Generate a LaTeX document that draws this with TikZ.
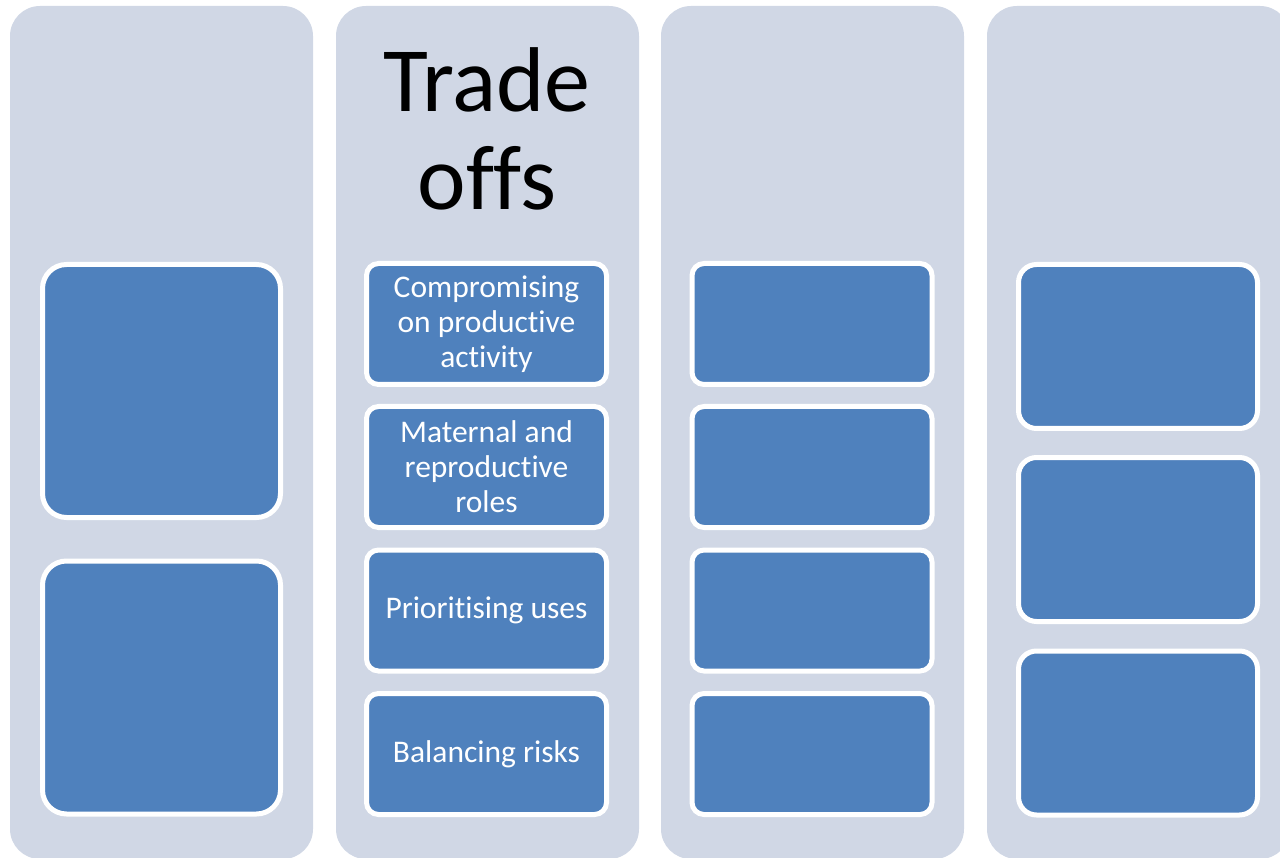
\documentclass[tikz,border=0pt]{standalone}
\usepackage{fontspec}
\setmainfont{Carlito}[Ligatures={NoCommon}]
\usepackage{tikz}
\usetikzlibrary{positioning}

\definecolor{colfill}{HTML}{D0D7E5}
\definecolor{boxfill}{HTML}{4F81BD}

\tikzset{
  column/.style={rectangle, fill=colfill, rounded corners=30pt, inner sep=0pt, outer sep=0pt,
    anchor=north west, minimum width=303pt, minimum height=853pt},
  bigbox/.style={rectangle, fill=boxfill, draw=white, line width=5pt, rounded corners=24pt,
    inner sep=0pt, minimum width=238pt, minimum height=253pt},
  smallbox/.style={rectangle, fill=boxfill, draw=white, line width=5pt, rounded corners=12pt,
    inner sep=0pt, minimum width=240pt, minimum height=121pt, text=white, align=center,
    font=\fontsize{31.5pt}{35pt}\selectfont},
  midbox/.style={smallbox, minimum width=239pt, minimum height=164pt, rounded corners=18pt}
}

\begin{document}
\begin{tikzpicture}[x=1pt, y=-1pt]
\useasboundingbox (0,0) rectangle (1280,858);

% columns
\node[column] (col1) at (10,6) {};
\node[column] (col2) at (336,6) {};
\node[column] (col3) at (661,6) {};
\node[column] (col4) at (987,6) {};

% first column
\node[bigbox] (a1) at (161.5,391) {};
\node[bigbox] (a2) at (161.5,687.5) {};

% trade offs
\node[align=center, anchor=base, font=\fontsize{92pt}{98pt}\selectfont] (title) at (487,210) {Trade\\offs};
\node[smallbox] (b1) at (486.5,324) {Compromising\\on productive\\activity};
\node[smallbox] (b2) at (486.5,467) {Maternal and\\reproductive\\roles};
\node[smallbox] (b3) at (486.5,610.5) {Prioritising uses};
\node[smallbox] (b4) at (486.5,754) {Balancing risks};

% third column
\node[smallbox] (c1) at (812,324) {};
\node[smallbox] (c2) at (812,467) {};
\node[smallbox] (c3) at (812,610.5) {};
\node[smallbox] (c4) at (812,754) {};

% fourth column
\node[midbox] (d1) at (1138,346.5) {};
\node[midbox] (d2) at (1138,539.5) {};
\node[midbox] (d3) at (1138,733) {};
\end{tikzpicture}
\end{document}
